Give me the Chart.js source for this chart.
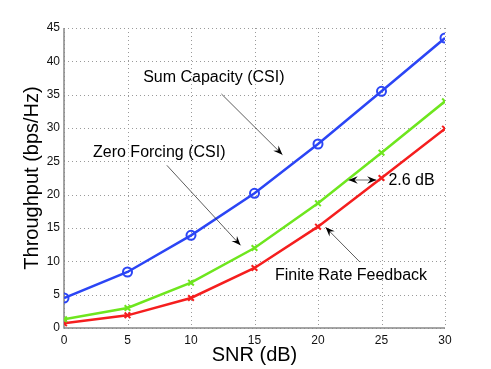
<!DOCTYPE html>
<html>
<head>
<meta charset="utf-8">
<script src="https://cdn.jsdelivr.net/npm/chart.js@4"></script>
<style>
  html, body { margin: 0; padding: 0; background: #fff; }
  #wrap { width: 491px; height: 369px; }
</style>
</head>
<body>
<div id="wrap"><canvas id="c" width="491" height="369"></canvas></div>
<script>
const snr = [0, 5, 10, 15, 20, 25, 30];
const sumCapacity = [4.5, 8.4, 13.9, 20.2, 27.6, 35.5, 43.5];
const zeroForcing = [1.3, 3.0, 6.8, 12.0, 18.7, 26.3, 34.0];
const finiteRate = [0.7, 1.9, 4.5, 9.0, 15.2, 22.5, 29.9];
const xTicks = [0, 5, 10, 15, 20, 25, 30];
const yTicks = [0, 5, 10, 15, 20, 25, 30, 35, 40, 45];

// annotation texts and arrows, in data units
const notes = [
    { text: 'Sum Capacity (CSI)', x: 11.8, y: 37.6, from: [12.4, 35.1], to: [17.2, 26.0] },
    { text: 'Zero Forcing (CSI)', x: 7.5, y: 26.3, from: [8.1, 24.4], to: [13.9, 12.4] },
    { text: 'Finite Rate Feedback', x: 22.6, y: 7.9, from: [23.3, 9.9], to: [20.6, 15.1] }
];
const gap = { text: '2.6 dB', x1: 22.4, x2: 24.6, y: 22.2 };

function arrowHead(ctx, x1, y1, x2, y2) {
    const a = Math.atan2(y2 - y1, x2 - x1);
    const len = 10, w = 0.38;
    ctx.beginPath();
    ctx.moveTo(x2, y2);
    ctx.lineTo(x2 - len * Math.cos(a - w), y2 - len * Math.sin(a - w));
    ctx.lineTo(x2 - len * 0.6 * Math.cos(a), y2 - len * 0.6 * Math.sin(a));
    ctx.lineTo(x2 - len * Math.cos(a + w), y2 - len * Math.sin(a + w));
    ctx.closePath();
    ctx.fill();
}

const annotate = {
    id: 'annotate',
    afterDatasetsDraw(chart) {
        const ctx = chart.ctx, xs = chart.scales.x, ys = chart.scales.y;
        ctx.save();
        ctx.font = '16px "Liberation Sans", Arial, sans-serif';
        ctx.fillStyle = '#000';
        ctx.textBaseline = 'middle';
        ctx.textAlign = 'center';
        notes.forEach(n => {
            ctx.fillText(n.text, xs.getPixelForValue(n.x), ys.getPixelForValue(n.y));
            const x1 = xs.getPixelForValue(n.from[0]), y1 = ys.getPixelForValue(n.from[1]);
            const x2 = xs.getPixelForValue(n.to[0]), y2 = ys.getPixelForValue(n.to[1]);
            ctx.strokeStyle = '#333';
            ctx.lineWidth = 0.8;
            ctx.beginPath();
            ctx.moveTo(x1, y1);
            ctx.lineTo(x2, y2);
            ctx.stroke();
            arrowHead(ctx, x1, y1, x2, y2);
        });
        const gx1 = xs.getPixelForValue(gap.x1), gx2 = xs.getPixelForValue(gap.x2);
        const gy = ys.getPixelForValue(gap.y);
        ctx.strokeStyle = '#888';
        ctx.lineWidth = 1.2;
        ctx.beginPath();
        ctx.moveTo(gx1, gy);
        ctx.lineTo(gx2, gy);
        ctx.stroke();
        arrowHead(ctx, gx2, gy, gx1, gy);
        arrowHead(ctx, gx1, gy, gx2, gy);
        ctx.textAlign = 'left';
        ctx.fillText(gap.text, gx2 + 12, gy + 1);
        ctx.restore();
    }
};

// dotted grid at the tick values, then solid left/bottom axis lines
const gridLines = {
    id: 'gridLines',
    beforeDatasetsDraw(chart) {
        const ctx = chart.ctx, a = chart.chartArea, xs = chart.scales.x, ys = chart.scales.y;
        ctx.save();
        ctx.strokeStyle = '#9a9a9a';
        ctx.lineWidth = 1;
        ctx.setLineDash([1, 3]);
        xTicks.forEach(v => {
            const px = Math.round(xs.getPixelForValue(v)) + 0.5;
            ctx.beginPath();
            ctx.moveTo(px, a.top);
            ctx.lineTo(px, a.bottom);
            ctx.stroke();
        });
        yTicks.forEach(v => {
            const py = Math.round(ys.getPixelForValue(v)) + 0.5;
            ctx.beginPath();
            ctx.moveTo(a.left, py);
            ctx.lineTo(a.right, py);
            ctx.stroke();
        });
        ctx.setLineDash([]);
        ctx.strokeStyle = '#888';
        ctx.lineWidth = 1.5;
        ctx.beginPath();
        ctx.moveTo(a.left, a.top);
        ctx.lineTo(a.left, a.bottom);
        ctx.lineTo(a.right, a.bottom);
        ctx.stroke();
        ctx.restore();
    }
};

const font = '"Liberation Sans", Arial, sans-serif';

new Chart(document.getElementById('c'), {
    type: 'line',
    data: {
        datasets: [
            {
                label: 'Sum Capacity (CSI)',
                data: snr.map((x, i) => ({ x: x, y: sumCapacity[i] })),
                borderColor: '#2b45f5',
                backgroundColor: 'rgba(0,0,0,0)',
                borderWidth: 2.5,
                pointStyle: 'circle',
                pointRadius: 4.5,
                pointBorderWidth: 2,
                pointBorderColor: '#2b45f5',
                pointBackgroundColor: 'rgba(255,255,255,0)'
            },
            {
                label: 'Zero Forcing (CSI)',
                data: snr.map((x, i) => ({ x: x, y: zeroForcing[i] })),
                borderColor: '#6ee61e',
                backgroundColor: '#6ee61e',
                borderWidth: 2.5,
                pointStyle: 'crossRot',
                pointRadius: 4,
                pointBorderWidth: 2
            },
            {
                label: 'Finite Rate Feedback',
                data: snr.map((x, i) => ({ x: x, y: finiteRate[i] })),
                borderColor: '#f51e1e',
                backgroundColor: '#f51e1e',
                borderWidth: 2.5,
                pointStyle: 'crossRot',
                pointRadius: 4,
                pointBorderWidth: 2
            }
        ]
    },
    options: {
        responsive: false,
        animation: false,
        layout: { padding: { top: 28, right: 46, left: 0, bottom: 0 } },
        plugins: { legend: { display: false }, tooltip: { enabled: false } },
        scales: {
            x: {
                type: 'linear',
                min: 0,
                max: 30,
                afterBuildTicks: s => { s.ticks = xTicks.map(v => ({ value: v })); },
                afterFit: s => { s.height = 41; },
                ticks: {
                    color: '#111',
                    padding: 5,
                    maxRotation: 0,
                    font: { family: font, size: 12 }
                },
                grid: { display: false, drawTicks: false },
                border: { display: false },
                title: {
                    display: true,
                    text: 'SNR (dB)',
                    color: '#000',
                    padding: { top: 0, bottom: 2 },
                    font: { family: font, size: 20 }
                }
            },
            y: {
                type: 'linear',
                min: 0,
                max: 45,
                afterBuildTicks: s => { s.ticks = yTicks.map(v => ({ value: v })); },
                afterFit: s => { s.width = 64; },
                ticks: {
                    color: '#111',
                    padding: 4,
                    font: { family: font, size: 12 }
                },
                grid: { display: false, drawTicks: false },
                border: { display: false },
                title: {
                    display: true,
                    text: 'Throughput (bps/Hz)',
                    color: '#000',
                    padding: { top: 20, bottom: 0 },
                    font: { family: font, size: 20 }
                }
            }
        }
    },
    plugins: [gridLines, annotate]
});
</script>
</body>
</html>
